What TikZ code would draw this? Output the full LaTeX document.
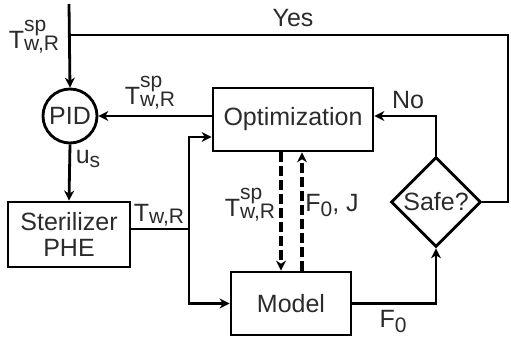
\documentclass[tikz,border=0pt]{standalone}
\usepackage{fontspec}
\setmainfont{Liberation Sans}
\usetikzlibrary{shapes.geometric,arrows.meta,calc}
\definecolor{txt}{HTML}{2B2B2B}
\newcommand\scriptsz{\fontsize{10.5}{12}\selectfont}
% symbol with stacked superscript and subscript
\newcommand\supsub[3]{#1\rlap{\raisebox{8.5pt}{\scriptsz #2}}\raisebox{-1pt}{\scriptsz #3}}
% symbol with a lowered subscript
\newcommand\lowsub[3]{#1\raisebox{#3}{\scriptsz #2}}
\begin{document}
\begin{tikzpicture}[x=0.5pt,y=-0.5pt,
  font=\fontsize{12.5}{14}\selectfont,
  every node/.style={text=txt},
  wire/.style={line width=1.4pt,draw=black},
  arr/.style={wire,-{Stealth[length=5pt,width=5pt,inset=1.6pt]}},
  dasharr/.style={arr,line width=1.6pt,dash pattern=on 5pt off 2pt},
  blockbox/.style={draw=black,line width=1.4pt,rectangle,inner sep=0pt,align=center},
  lbl/.style={inner sep=0pt}]
\useasboundingbox (0,0) rectangle (511,338);

% blocks
\node[blockbox,circle,minimum size=27pt] (pid) at (70,116) {PID};
\node[blockbox,minimum width=80pt,minimum height=31.5pt] (opt) at (293,119.5) {Optimization};
\node[blockbox,minimum width=61pt,minimum height=32.5pt] (ster) at (69,234.5) {Sterilizer\\[-1pt]PHE};
\node[blockbox,minimum width=60pt,minimum height=31.5pt] (model) at (291,303.5) {Model};
\node[blockbox,diamond,aspect=1,minimum width=45pt,minimum height=45pt] (safe) at (436,202) {Safe?};

% helper points of the wiring
\coordinate (src) at (69,4);
\coordinate (yesj) at (69,35);
\coordinate (yesr) at (508,35);
\coordinate (jn) at (189,229);

% setpoint input and the "Yes" return
\draw[arr] (src) -- (pid.north);
\draw[wire] (safe.east) -| (yesr) -- (yesj);

% optimization to PID, PID to plant
\draw[arr] ([yshift=1.75pt]opt.west) -- (pid.east);
\draw[arr] (pid.south) -- (ster.north);

% plant output distributed to optimization and model
\draw[wire] ([yshift=2.75pt]ster.east) -- (jn);
\draw[arr] (jn) |- ([yshift=-8.75pt]opt.west);
\draw[arr] (jn) |- (model.west);

% model to safety check, and the "No" path
\draw[arr] (model.east) -| (safe.south);
\draw[arr] (safe.north) |- ([yshift=1.75pt]opt.east);

% data exchange between optimization and model
\draw[dasharr] ([xshift=-6pt]opt.south) -- ([xshift=-6pt]opt.south |- model.north);
\draw[dasharr] ([xshift=4.5pt]opt.south |- model.north) -- ([xshift=4.5pt]opt.south);

% labels
\node[lbl] (l1) at (34,37) {\supsub{T}{sp}{w,R}};
\node[lbl] (l2) at (293,18) {Yes};
\node[lbl] (l3) at (150,93) {\supsub{T}{sp}{w,R}};
\node[lbl] (l4) at (88,159) {\lowsub{u}{s}{-2pt}};
\node[lbl] (l5) at (159,215) {\lowsub{T}{w,R}{-1pt}};
\node[lbl] (l6) at (250,205) {\supsub{T}{sp}{w,R}};
\node[lbl] (l7) at (332,206) {\lowsub{F}{0}{-2.5pt}, J};
\node[lbl] (l8) at (393,322) {\lowsub{F}{0}{-2.5pt}};
\node[lbl] (l9) at (408,100) {No};
\end{tikzpicture}
\end{document}
